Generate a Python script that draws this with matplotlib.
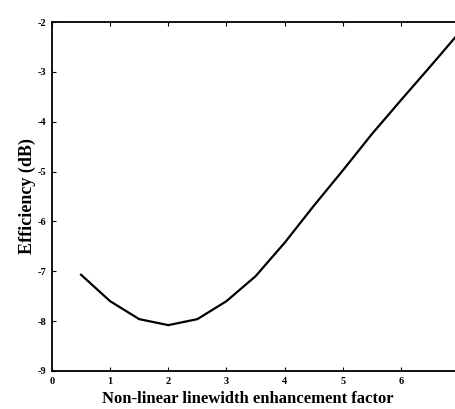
import matplotlib
matplotlib.use("Agg")
import matplotlib.pyplot as plt

alpha = [0.5, 1.0, 1.5, 2.0, 2.5, 3.0, 3.5, 4.0, 4.5, 5.0, 5.5, 6.0, 6.5, 7.0]
efficiency = [-7.07, -7.6, -7.96, -8.08, -7.96, -7.6, -7.1, -6.43, -5.69, -4.98, -4.25, -3.57, -2.9, -2.22]
xticks = [0, 1, 2, 3, 4, 5, 6, 7]
xticklabels = ['0', '1', '2', '3', '4', '5', '6', '']
yticks = [-9, -8, -7, -6, -5, -4, -3, -2]

plt.rcParams['font.family'] = ['Liberation Serif', 'DejaVu Serif']
plt.rcParams['font.weight'] = 'bold'

fig = plt.figure(figsize=(4.55, 4.09), dpi=100)
W, H = 455, 409
left, right, top, bottom = 52, 459, 22, 371
ax = fig.add_axes([left / W, 1 - bottom / H, (right - left) / W, (bottom - top) / H])
ax.plot(alpha, efficiency, color='black', lw=1.6)
ax.set_xlim(0, 7)
ax.set_ylim(-9, -2)
ax.set_xticks(xticks)
ax.set_yticks(yticks)
ax.set_xticklabels(xticklabels, fontsize=7.5, fontweight='bold')
ax.set_yticklabels([str(t) for t in yticks], fontsize=7.5, fontweight='bold')
ax.tick_params(direction='in', length=3, width=0.8, top=True, right=True, pad=4)
for s in ax.spines.values():
    s.set_linewidth(1.3)
ax.set_xlabel('Non-linear linewidth enhancement factor', fontsize=12, fontweight='bold')
ax.xaxis.set_label_coords(0.482, -0.056, transform=ax.transAxes)
ax.xaxis.label.set_va('top')
ax.set_ylabel('Efficiency (dB)', fontsize=13, fontweight='bold', labelpad=1)
fig.savefig('out.png', dpi=100)
